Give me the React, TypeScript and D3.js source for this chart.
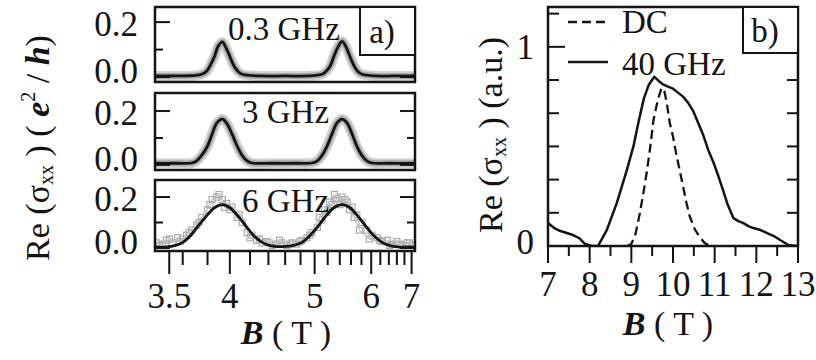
import React, { useEffect, useRef } from 'react';
import * as d3 from 'd3';

const W = 816;
const H = 360;
const FONT = '"Liberation Serif", "Times New Roman", serif';

// panel a) magnetic field B (T) and Re(sigma_xx) in e^2/h
const fieldA03 = [3.40, 3.55, 3.70, 3.75, 3.79, 3.82, 3.86, 3.89, 3.93, 3.96, 4.00, 4.04, 4.08, 4.12, 4.30, 4.60, 4.90, 5.11, 5.17, 5.24, 5.30, 5.37, 5.44, 5.51, 5.58, 5.66, 5.73, 5.81, 6.10, 6.50, 7.10];
const sigmaA03 = [0.004, 0.004, 0.006, 0.01, 0.02, 0.04, 0.075, 0.11, 0.128, 0.11, 0.075, 0.04, 0.02, 0.01, 0.004, 0.004, 0.004, 0.01, 0.02, 0.04, 0.075, 0.11, 0.13, 0.11, 0.075, 0.04, 0.02, 0.01, 0.004, 0.004, 0.004];

const fieldA3 = [3.40, 3.55, 3.67, 3.71, 3.75, 3.80, 3.84, 3.88, 3.93, 3.97, 4.02, 4.07, 4.12, 4.17, 4.22, 4.45, 4.75, 4.96, 5.04, 5.11, 5.19, 5.27, 5.35, 5.44, 5.53, 5.62, 5.71, 5.81, 5.91, 6.02, 6.40, 7.10];
const sigmaA3 = [0.006, 0.006, 0.007, 0.015, 0.035, 0.07, 0.115, 0.155, 0.17, 0.155, 0.115, 0.07, 0.035, 0.015, 0.007, 0.006, 0.006, 0.007, 0.015, 0.035, 0.07, 0.115, 0.155, 0.17, 0.155, 0.115, 0.07, 0.035, 0.015, 0.007, 0.006, 0.006];

const fieldA6 = [3.40, 3.48, 3.54, 3.60, 3.66, 3.72, 3.79, 3.86, 3.93, 4.00, 4.08, 4.16, 4.24, 4.33, 4.42, 4.51, 4.61, 4.71, 4.82, 4.93, 5.05, 5.17, 5.30, 5.44, 5.58, 5.73, 5.89, 6.06, 6.24, 6.43, 6.63, 6.84, 7.10];
const sigmaA6 = [0.003, 0.004, 0.009, 0.022, 0.048, 0.085, 0.125, 0.158, 0.17, 0.158, 0.125, 0.085, 0.048, 0.022, 0.009, 0.005, 0.006, 0.01, 0.022, 0.048, 0.085, 0.125, 0.158, 0.17, 0.158, 0.125, 0.085, 0.048, 0.022, 0.009, 0.004, 0.003, 0.003];

// 6 GHz measured points (grey squares), two interleaved sweeps
const fieldA6pts = [3.41, 3.45, 3.48, 3.52, 3.56, 3.60, 3.63, 3.67, 3.71, 3.75, 3.80, 3.84, 3.88, 3.93, 3.97, 4.02, 4.07, 4.12, 4.17, 4.22, 4.27, 4.33, 4.38, 4.44, 4.50, 4.56, 4.62, 4.69, 4.75, 4.82, 4.89, 4.96, 5.04, 5.11, 5.19, 5.27, 5.35, 5.44, 5.53, 5.62, 5.71, 5.81, 5.91, 6.02, 6.13, 6.24, 6.36, 6.48, 6.60, 6.74, 6.87, 7.01];
const sigmaA6pts = [0.02, 0.015, 0.03, 0.02, 0.04, 0.035, 0.05, 0.07, 0.09, 0.12, 0.15, 0.19, 0.20, 0.19, 0.175, 0.16, 0.12, 0.10, 0.06, 0.05, 0.03, 0.02, 0.025, 0.01, 0.015, 0.02, 0.01, 0.02, 0.015, 0.03, 0.04, 0.06, 0.08, 0.11, 0.14, 0.17, 0.195, 0.20, 0.18, 0.16, 0.13, 0.10, 0.07, 0.05, 0.04, 0.025, 0.03, 0.015, 0.025, 0.01, 0.02, 0.01];
const fieldA6pts2 = [3.43, 3.50, 3.58, 3.65, 3.73, 3.82, 3.90, 3.95, 4.00, 4.09, 4.20, 4.30, 4.41, 4.53, 4.66, 4.79, 4.93, 5.07, 5.15, 5.23, 5.31, 5.40, 5.49, 5.57, 5.66, 5.76, 5.96, 6.18, 6.42, 6.67, 6.94];
const sigmaA6pts2 = [0.01, 0.035, 0.025, 0.06, 0.10, 0.17, 0.21, 0.16, 0.15, 0.13, 0.04, 0.035, 0.02, 0.03, 0.015, 0.025, 0.05, 0.12, 0.15, 0.18, 0.21, 0.17, 0.19, 0.15, 0.12, 0.07, 0.035, 0.03, 0.01, 0.015, 0.02];

const freqLabels = ['0.3 GHz', '3 GHz', '6 GHz'];
const ticksAx = [3.5, 4, 5, 6, 7];
const tickLabelsAx = ['3.5', '4', '5', '6', '7'];
const ticksAy = [0, 0.2];
const tickLabelsAy = ['0.0', '0.2'];

// panel b) 40 GHz and DC curves, arbitrary units
const fieldB40 = [7.00, 7.15, 7.30, 7.45, 7.60, 7.75, 7.89, 8.05, 8.20, 8.41, 8.65, 8.89, 9.05, 9.17, 9.30, 9.42, 9.55, 9.65, 9.77, 9.88, 10.00, 10.12, 10.24, 10.36, 10.48, 10.60, 10.72, 10.85, 10.97, 11.09, 11.20, 11.30, 11.45, 11.57, 11.69, 11.81, 11.93, 12.10, 12.26, 12.42, 12.57, 12.77, 12.98];
const sigmaB40 = [0.115, 0.09, 0.075, 0.065, 0.055, 0.04, 0.01, 0.0, 0.0, 0.08, 0.215, 0.38, 0.50, 0.62, 0.74, 0.81, 0.85, 0.83, 0.81, 0.80, 0.79, 0.77, 0.75, 0.72, 0.68, 0.62, 0.56, 0.48, 0.42, 0.35, 0.28, 0.215, 0.14, 0.125, 0.115, 0.10, 0.09, 0.08, 0.065, 0.05, 0.03, 0.005, 0.0];

const fieldBdc = [8.90, 9.00, 9.10, 9.20, 9.30, 9.37, 9.45, 9.53, 9.60, 9.66, 9.72, 9.78, 9.85, 9.92, 10.00, 10.07, 10.15, 10.24, 10.32, 10.40, 10.52, 10.64, 10.76, 10.88];
const sigmaBdc = [0.0, 0.01, 0.06, 0.16, 0.28, 0.37, 0.49, 0.63, 0.70, 0.75, 0.79, 0.79, 0.72, 0.62, 0.55, 0.47, 0.39, 0.30, 0.22, 0.15, 0.085, 0.045, 0.015, 0.0];

const ticksBx = [7, 8, 9, 10, 11, 12, 13];
const ticksBy = [0, 1];
const legendB = ['DC', '40 GHz'];

export default function App() {
  const svgRef = useRef<SVGSVGElement>(null);

  useEffect(() => {
    const svg = d3.select(svgRef.current);
    svg.selectAll('*').remove();
    svg.style('font-family', FONT).style('white-space', 'pre');

    const ink = '#141414';
    const TICK = 35;
    const text = (x: number, y: number, s: string, size = 33, anchor = 'start') =>
      svg.append('text')
        .attr('x', x).attr('y', y)
        .attr('text-anchor', anchor)
        .attr('fill', ink)
        .style('font-size', `${size}px`)
        .text(s);

    // ---------- panel a ----------
    const left = 155, right = 415;
    const xInv = d3.scaleLinear().domain([1 / 3.4, 1 / 7.1]).range([left, right]);
    const xA = (b: number) => xInv(1 / b);

    const subs = [
      { top: 7, bottom: 82, dom: [-0.018, 0.255], f: fieldA03, s: sigmaA03, lx: 228, ly: 40 },
      { top: 93, bottom: 170, dom: [-0.019, 0.267], f: fieldA3, s: sigmaA3, lx: 242, ly: 123 },
      { top: 180, bottom: 251, dom: [-0.012, 0.267], f: fieldA6, s: sigmaA6, lx: 242, ly: 212 },
    ];

    subs.forEach((p, k) => {
      const y = d3.scaleLinear().domain(p.dom).range([p.bottom, p.top]);
      const clipId = `clipA${k}`;
      svg.append('clipPath').attr('id', clipId)
        .append('rect').attr('x', left).attr('y', p.top).attr('width', right - left).attr('height', p.bottom - p.top);
      const g = svg.append('g').attr('clip-path', `url(#${clipId})`);

      const line = d3.line<number>()
        .x((_, i) => xA(p.f[i]))
        .y(d => y(d))
        .curve(d3.curveCatmullRom.alpha(0.5));

      if (k < 2) {
        // dense measured data shows as a grey band round the fit
        g.append('path').attr('d', line(p.s)).attr('fill', 'none')
          .attr('stroke', '#d2d2d2').attr('stroke-width', 10).attr('stroke-linejoin', 'round');
        g.append('path').attr('d', line(p.s)).attr('fill', 'none')
          .attr('stroke', '#a8a8a8').attr('stroke-width', 6).attr('stroke-linejoin', 'round');
      } else {
        const sweeps: [number[], number[]][] = [[fieldA6pts, sigmaA6pts], [fieldA6pts2, sigmaA6pts2]];
        sweeps.forEach(([fs, vs], j) => {
          const ptLine = d3.line<number>()
            .x((_, i) => xA(fs[i]))
            .y(d => y(d));
          g.append('path').attr('d', ptLine(vs)).attr('fill', 'none')
            .attr('stroke', '#c8c8c8').attr('stroke-width', 1.3);
          g.selectAll(`rect.pt${j}`).data(vs).join('rect')
            .attr('class', `pt${j}`)
            .attr('x', (_, i) => xA(fs[i]) - 3)
            .attr('y', d => y(d) - 3)
            .attr('width', 6).attr('height', 6)
            .attr('fill', 'none').attr('stroke', '#ababab').attr('stroke-width', 1.2);
        });
      }
      g.append('path').attr('d', line(p.s)).attr('fill', 'none')
        .attr('stroke', ink).attr('stroke-width', 2.8);

      // y ticks, inward on both sides
      [0, 0.1, 0.2].forEach(v => {
        const len = v === 0.1 ? 8 : 15;
        svg.append('line').attr('x1', left).attr('x2', left + len).attr('y1', y(v)).attr('y2', y(v))
          .attr('stroke', ink).attr('stroke-width', 2);
        svg.append('line').attr('x1', right - len).attr('x2', right).attr('y1', y(v)).attr('y2', y(v))
          .attr('stroke', ink).attr('stroke-width', 2);
      });
      ticksAy.forEach((v, i) => {
        text(138, y(v) + (v === 0 ? 6 : 14), tickLabelsAy[i], TICK, 'end');
      });

      svg.append('rect').attr('x', left).attr('y', p.top).attr('width', right - left).attr('height', p.bottom - p.top)
        .attr('fill', 'none').attr('stroke', ink).attr('stroke-width', 2.5);

      text(p.lx, p.ly, freqLabels[k], 33);
    });

    // a) label box
    svg.append('rect').attr('x', 360).attr('y', 7).attr('width', 55).attr('height', 48)
      .attr('fill', '#fff').attr('stroke', ink).attr('stroke-width', 2);
    text(382, 43, 'a)', 33, 'middle');

    // bottom axis of panel a (reciprocal field scale)
    const bottomA = subs[2].bottom;
    const minorA = d3.range(36, 71, 2).map(v => v / 10).filter(v => !ticksAx.includes(v));
    minorA.forEach(v => {
      svg.append('line').attr('x1', xA(v)).attr('x2', xA(v)).attr('y1', bottomA).attr('y2', bottomA + 14)
        .attr('stroke', ink).attr('stroke-width', 2);
    });
    ticksAx.forEach((v, i) => {
      svg.append('line').attr('x1', xA(v)).attr('x2', xA(v)).attr('y1', bottomA).attr('y2', bottomA + 23)
        .attr('stroke', ink).attr('stroke-width', 2);
      text(xA(v), 308, tickLabelsAx[i], TICK, 'middle');
    });

    const bLabelA = svg.append('text').attr('x', 286).attr('y', 344).attr('text-anchor', 'middle')
      .attr('fill', ink).style('font-size', '34px');
    bLabelA.append('tspan').attr('font-weight', 'bold').attr('font-style', 'italic').text('B');
    bLabelA.append('tspan').text(' ( T )');

    const yLabelA = svg.append('text').attr('transform', 'translate(49,148) rotate(-90)')
      .attr('text-anchor', 'middle').attr('fill', ink).style('font-size', '34px');
    yLabelA.append('tspan').text('Re (σ');
    yLabelA.append('tspan').style('font-size', '20px').attr('dy', 4).text('xx');
    yLabelA.append('tspan').attr('dy', -4).text(' )   ( ');
    yLabelA.append('tspan').attr('font-weight', 'bold').attr('font-style', 'italic').text('e');
    yLabelA.append('tspan').style('font-size', '20px').attr('dy', -14).text('2');
    yLabelA.append('tspan').attr('dy', 14).text(' / ');
    yLabelA.append('tspan').attr('font-weight', 'bold').attr('font-style', 'italic').text('h');
    yLabelA.append('tspan').text(')');

    // ---------- panel b ----------
    const bl = 548, br = 798, bt = 7, bb = 246;
    const xB = d3.scaleLinear().domain([7, 13]).range([bl, br]);
    const yB = d3.scaleLinear().domain([0, 1.2]).range([bb, bt]);

    svg.append('clipPath').attr('id', 'clipB')
      .append('rect').attr('x', bl).attr('y', bt).attr('width', br - bl).attr('height', bb - bt);
    const gb = svg.append('g').attr('clip-path', 'url(#clipB)');

    const lineB = (f: number[]) => d3.line<number>()
      .x((_, i) => xB(f[i]))
      .y(d => yB(d));

    gb.append('path').attr('d', lineB(fieldBdc)(sigmaBdc)).attr('fill', 'none')
      .attr('stroke', ink).attr('stroke-width', 2.3).attr('stroke-dasharray', '9,5');
    gb.append('path').attr('d', lineB(fieldB40)(sigmaB40)).attr('fill', 'none')
      .attr('stroke', ink).attr('stroke-width', 2.5).attr('stroke-linejoin', 'round');

    // y ticks in sixths of the unit
    d3.range(0, 8).map(i => i / 6).forEach((v, i) => {
      const major = i === 0 || i === 6;
      svg.append('line').attr('x1', bl).attr('x2', bl + (major ? 17 : 11)).attr('y1', yB(v)).attr('y2', yB(v))
        .attr('stroke', ink).attr('stroke-width', 2);
      svg.append('line').attr('x1', br - 11).attr('x2', br).attr('y1', yB(v)).attr('y2', yB(v))
        .attr('stroke', ink).attr('stroke-width', 2);
    });
    ticksBy.forEach(v => text(534, yB(v) + (v === 0 ? 8 : 12), String(v), TICK, 'end'));

    d3.range(7.5, 13, 1).forEach(v => {
      svg.append('line').attr('x1', xB(v)).attr('x2', xB(v)).attr('y1', bb).attr('y2', bb + 10)
        .attr('stroke', ink).attr('stroke-width', 2);
    });
    ticksBx.forEach(v => {
      svg.append('line').attr('x1', xB(v)).attr('x2', xB(v)).attr('y1', bb).attr('y2', bb + 17)
        .attr('stroke', ink).attr('stroke-width', 2);
      text(xB(v), 296, String(v), TICK, 'middle');
    });

    svg.append('rect').attr('x', bl).attr('y', bt).attr('width', br - bl).attr('height', bb - bt)
      .attr('fill', 'none').attr('stroke', ink).attr('stroke-width', 2.5);

    // b) label box
    svg.append('rect').attr('x', 743).attr('y', bt).attr('width', br - 743).attr('height', 46)
      .attr('fill', '#fff').attr('stroke', ink).attr('stroke-width', 2);
    text(765, 42, 'b)', 33, 'middle');

    // legend
    svg.append('line').attr('x1', 568).attr('x2', 608).attr('y1', 22).attr('y2', 22)
      .attr('stroke', ink).attr('stroke-width', 2.3).attr('stroke-dasharray', '9,5');
    text(622, 33, legendB[0], 33);
    svg.append('line').attr('x1', 568).attr('x2', 608).attr('y1', 62).attr('y2', 62)
      .attr('stroke', ink).attr('stroke-width', 2.5);
    text(622, 75, legendB[1], 33);

    const bLabelB = svg.append('text').attr('x', 668).attr('y', 335).attr('text-anchor', 'middle')
      .attr('fill', ink).style('font-size', '34px');
    bLabelB.append('tspan').attr('font-weight', 'bold').attr('font-style', 'italic').text('B');
    bLabelB.append('tspan').text(' ( T )');

    const yLabelB = svg.append('text').attr('transform', 'translate(502,135) rotate(-90)')
      .attr('text-anchor', 'middle').attr('fill', ink).style('font-size', '34px');
    yLabelB.append('tspan').text('Re (σ');
    yLabelB.append('tspan').style('font-size', '20px').attr('dy', 4).text('xx');
    yLabelB.append('tspan').attr('dy', -4).text(' )  (a.u.)');
  }, []);

  return (
    <div style={{ position: 'absolute', left: 0, top: 0, background: '#fff' }}>
      <svg ref={svgRef} width={W} height={H} style={{ display: 'block' }} />
    </div>
  );
}
